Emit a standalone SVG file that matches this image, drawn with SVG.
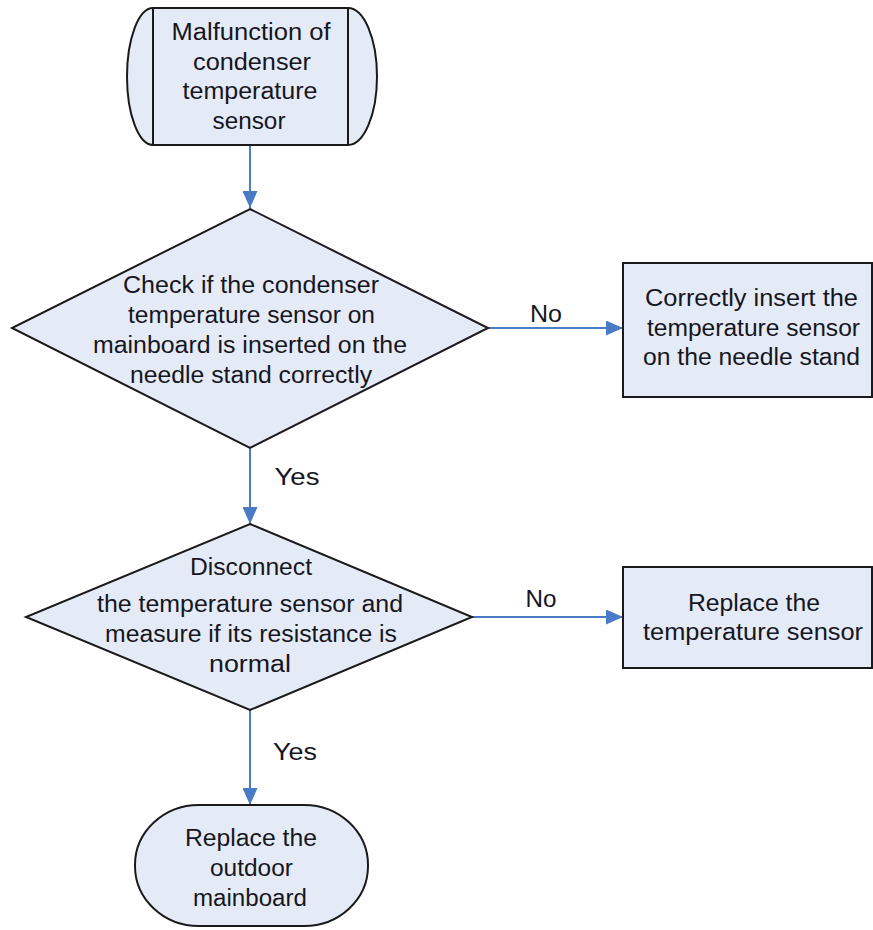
<svg xmlns="http://www.w3.org/2000/svg" width="873" height="930" viewBox="0 0 873 930">
<style>
.shape{fill:#E5EBF6;stroke:#1a1a1a;stroke-width:2}
.t{font-family:"Liberation Sans",Arial,sans-serif;font-size:23px;fill:#16161f;text-anchor:middle}
.lbl{font-family:"Liberation Sans",Arial,sans-serif;font-size:23px;fill:#16161f;text-anchor:middle}
.conn{stroke:#4A7BC6;stroke-width:2;fill:none;marker-end:url(#arr)}
</style>
<defs>
<marker id="arr" viewBox="0 0 17 15" refX="17" refY="7.5" markerWidth="17" markerHeight="15" markerUnits="userSpaceOnUse" orient="auto">
<path d="M0,0 L17,7.5 L0,15 z" fill="#4A7BC6"/>
</marker>
</defs>
<rect width="873" height="930" fill="#ffffff"/>
<g id="connectors">
<line class="conn" x1="250" y1="145" x2="250" y2="208"/>
<line class="conn" x1="488" y1="328" x2="623" y2="328"/>
<line class="conn" x1="250" y1="448" x2="250" y2="524"/>
<line class="conn" x1="472" y1="617" x2="623" y2="617"/>
<line class="conn" x1="250" y1="710" x2="250" y2="805"/>
<text class="lbl" x="546" y="322" textLength="32" lengthAdjust="spacingAndGlyphs">No</text>
<text class="lbl" x="541" y="607" textLength="31" lengthAdjust="spacingAndGlyphs">No</text>
<text class="lbl" x="297" y="485" textLength="45" lengthAdjust="spacingAndGlyphs">Yes</text>
<text class="lbl" x="295" y="760" textLength="44" lengthAdjust="spacingAndGlyphs">Yes</text>
</g>
<g id="start">
<path class="shape" d="M153,8 H348 A29,68.5 0 0 1 348,145 H153 A26,68.5 0 0 1 153,8 Z"/>
<line x1="153" y1="8" x2="153" y2="145" stroke="#1a1a1a" stroke-width="2"/>
<line x1="348" y1="8" x2="348" y2="145" stroke="#1a1a1a" stroke-width="2"/>
<text class="t" x="251" y="40" textLength="159" lengthAdjust="spacingAndGlyphs">Malfunction of</text>
<text class="t" x="252" y="69.5" textLength="118" lengthAdjust="spacingAndGlyphs">condenser</text>
<text class="t" x="250" y="99" textLength="135" lengthAdjust="spacingAndGlyphs">temperature</text>
<text class="t" x="249" y="128.5" textLength="73" lengthAdjust="spacingAndGlyphs">sensor</text>
</g>
<g id="check1">
<path class="shape" d="M250,209 L488,328 L250,448 L12,328 Z"/>
<text class="t" x="251" y="292.5" textLength="256" lengthAdjust="spacingAndGlyphs">Check if the condenser</text>
<text class="t" x="251.5" y="322.5" textLength="247" lengthAdjust="spacingAndGlyphs">temperature sensor on</text>
<text class="t" x="250" y="352.5" textLength="314" lengthAdjust="spacingAndGlyphs">mainboard is inserted on the</text>
<text class="t" x="251" y="382.5" textLength="242" lengthAdjust="spacingAndGlyphs">needle stand correctly</text>
</g>
<g id="insert">
<rect class="shape" x="623" y="263" width="249" height="134"/>
<text class="t" x="751.5" y="306" textLength="213" lengthAdjust="spacingAndGlyphs">Correctly insert the</text>
<text class="t" x="753.5" y="336" textLength="213" lengthAdjust="spacingAndGlyphs">temperature sensor</text>
<text class="t" x="751.5" y="365" textLength="217" lengthAdjust="spacingAndGlyphs">on the needle stand</text>
</g>
<g id="check2">
<path class="shape" d="M250,524 L472,617 L250,710 L26,617 Z"/>
<text class="t" x="251" y="575" textLength="122" lengthAdjust="spacingAndGlyphs">Disconnect</text>
<text class="t" x="250" y="611.5" textLength="306" lengthAdjust="spacingAndGlyphs">the temperature sensor and</text>
<text class="t" x="251" y="641.5" textLength="292" lengthAdjust="spacingAndGlyphs">measure if its resistance is</text>
<text class="t" x="250" y="671.5" textLength="82" lengthAdjust="spacingAndGlyphs">normal</text>
</g>
<g id="replaceSensor">
<rect class="shape" x="623" y="567" width="249" height="101"/>
<text class="t" x="754" y="611" textLength="132" lengthAdjust="spacingAndGlyphs">Replace the</text>
<text class="t" x="753" y="640" textLength="220" lengthAdjust="spacingAndGlyphs">temperature sensor</text>
</g>
<g id="replaceBoard">
<rect class="shape" x="135" y="805" width="233" height="121" rx="64" ry="60"/>
<text class="t" x="251" y="846" textLength="132" lengthAdjust="spacingAndGlyphs">Replace the</text>
<text class="t" x="251.5" y="876" textLength="83" lengthAdjust="spacingAndGlyphs">outdoor</text>
<text class="t" x="250" y="906" textLength="114" lengthAdjust="spacingAndGlyphs">mainboard</text>
</g>
</svg>
